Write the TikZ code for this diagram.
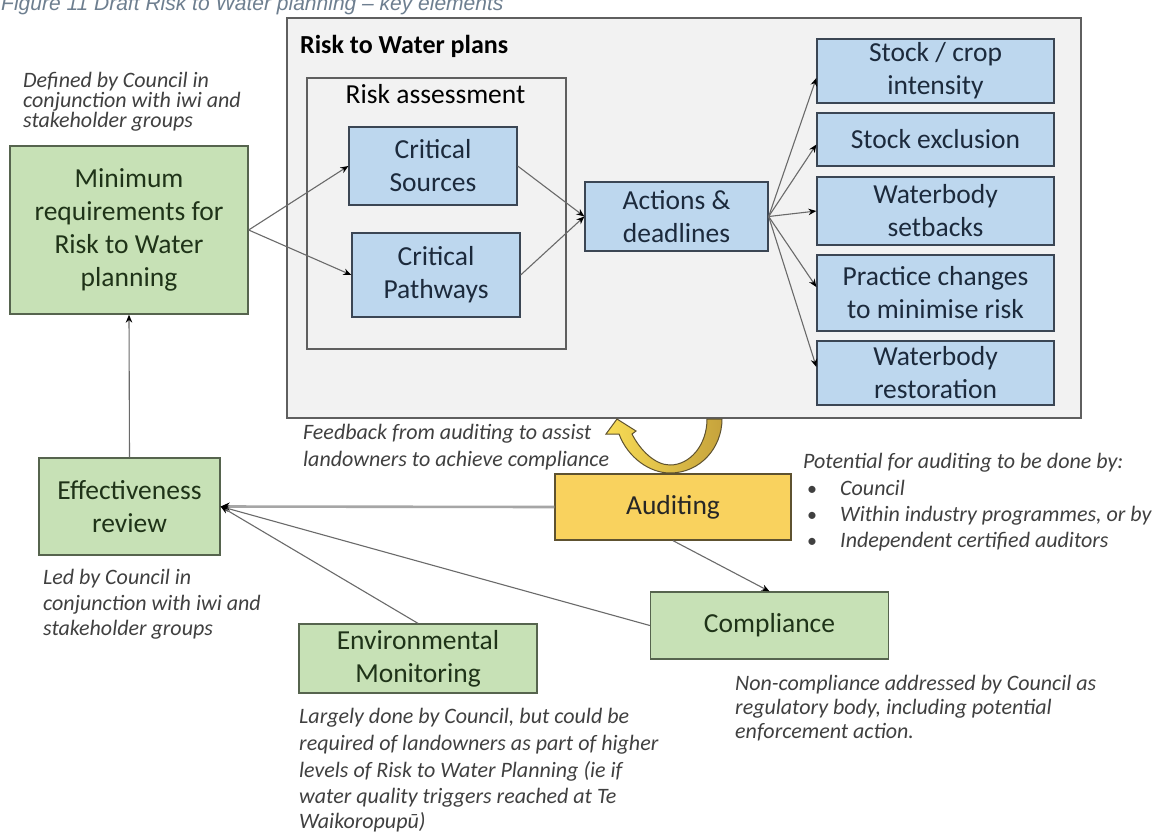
\documentclass[tikz,border=0pt]{standalone}
\usepackage{fontspec}
\setmainfont{Carlito}
\newfontfamily\capfont{Liberation Sans}
\usetikzlibrary{arrows.meta,calc}

\definecolor{panelfill}{HTML}{F2F2F2}
\definecolor{panelline}{HTML}{5F5F5F}
\definecolor{bluefill}{HTML}{BDD7EE}
\definecolor{blueline}{HTML}{3B4654}
\definecolor{bluetext}{HTML}{1C2A3C}
\definecolor{greenfill}{HTML}{C7E1B6}
\definecolor{greenline}{HTML}{56644E}
\definecolor{greentext}{HTML}{1F3318}
\definecolor{yelfill}{HTML}{F9D25E}
\definecolor{yelline}{HTML}{5E5230}
\definecolor{yellight}{HTML}{F8DC55}
\definecolor{yeldark}{HTML}{C6A33C}
\definecolor{notetext}{HTML}{404040}
\definecolor{captext}{HTML}{6E7F90}
\definecolor{linkgray}{HTML}{6A6A6A}

\tikzset{
  box/.style={draw, line width=1.3pt, align=center, inner sep=0pt,
    font=\fontsize{27.5}{33}\selectfont},
  bluebox/.style={box, fill=bluefill, draw=blueline, text=bluetext},
  greenbox/.style={box, fill=greenfill, draw=greenline, text=greentext},
  yellowbox/.style={box, fill=yelfill, draw=yelline, text=black!85},
  framebox/.style={draw=panelline, fill=panelfill, line width=1.4pt, inner sep=0pt},
  link/.style={draw=linkgray, line width=1.1pt, -{Stealth[length=8pt,width=6.5pt,black]}},
  note/.style={anchor=base west, inner sep=0pt, text=notetext,
    font=\fontsize{22}{22}\selectfont\itshape},
  bullet/.style={note, font=\fontsize{20}{20}\selectfont},
}

\begin{document}
\begin{tikzpicture}[x=1pt, y=-1pt]
\useasboundingbox (0,0) rectangle (1156,831);
\fill[white] (0,0) rectangle (1156,831);

% caption line
\node[anchor=base west, inner sep=0pt, text=captext,
  font=\capfont\itshape\fontsize{21}{21}\selectfont] (cap) at (1,10)
  {Figure 11 Draft Risk to Water planning – key elements};

% plan panel and its risk assessment frame
\node[framebox, minimum width=794pt, minimum height=400pt] (panel) at (684,218) {};
\node[anchor=base west, inner sep=0pt, font=\fontsize{26}{30}\selectfont\bfseries]
  (ptitle) at (300,53) {Risk to Water plans};
\node[framebox, line width=1.3pt, minimum width=259pt, minimum height=271pt] (ra) at (436.5,213.5) {};
\node[anchor=base, inner sep=0pt, font=\fontsize{27.5}{33}\selectfont] (ratitle) at (435.5,103) {Risk assessment};

% blue boxes
\node[bluebox, minimum width=168pt, minimum height=78pt] (crs) at (433,166) {Critical\\Sources};
\node[bluebox, minimum width=168pt, minimum height=84pt] (crp) at (436,275) {Critical\\Pathways};
\node[bluebox, minimum width=183pt, minimum height=69pt] (act) at (676.5,216.5) {Actions \&\\deadlines};
\node[bluebox, minimum width=237pt, minimum height=64pt] (sc) at (935.5,71) {Stock / crop\\intensity};
\node[bluebox, minimum width=237pt, minimum height=53pt] (se) at (935.5,139.5) {Stock exclusion};
\node[bluebox, minimum width=237pt, minimum height=68pt] (ws) at (935.5,211) {Waterbody\\setbacks};
\node[bluebox, minimum width=237pt, minimum height=76pt] (pc) at (935.5,293) {Practice changes\\to minimise risk};
\node[bluebox, minimum width=237pt, minimum height=64pt] (wr) at (935.5,373) {Waterbody\\restoration};

% green and yellow boxes
\node[greenbox, minimum width=238pt, minimum height=168pt] (minreq) at (129,230)
  {Minimum\\requirements for\\Risk to Water\\planning};
\node[greenbox, minimum width=181pt, minimum height=97pt] (eff) at (129.5,506.5) {Effectiveness\\review};
\node[greenbox, minimum width=238pt, minimum height=69pt] (env) at (418,658.5) {Environmental\\Monitoring};
\node[greenbox, minimum width=238pt, minimum height=67pt] (com) at (769.5,625.5) {Compliance};
\node[yellowbox, minimum width=236pt, minimum height=66pt] (aud) at (673,507) {Auditing};

% feedback U-turn arrow from auditing back to the plans
\path[draw=yelline, line width=1pt, left color=yellight, right color=yeldark]
  (722,419) .. controls (722,448) and (700,473) .. (670,473)
  .. controls (650,473) and (628,458) .. (619,434)
  -- (606,434) -- (617,419) -- (636,431) -- (632,434)
  .. controls (640,450) and (655,465) .. (670,465)
  .. controls (690,465) and (707,445) .. (707,419) -- cycle;

% connectors inside the plans
\draw[link] (minreq.east) -- (crs.west);
\draw[link] (minreq.east) -- (crp.west);
\draw[link] (crs.east) -- (act.west);
\draw[link] (crp.east) -- (act.west);
\draw[link] (act.east) -- ([yshift=-7pt]sc.west);
\draw[link] (act.east) -- ([yshift=-5pt]se.west);
\draw[link] (act.east) -- (ws.west);
\draw[link] (act.east) -- ([yshift=6pt]pc.west);
\draw[link] (act.east) -- ([yshift=6pt]wr.west);

% review and auditing connectors
\draw[link] (eff.north) -- (minreq.south);
\draw[draw=black!35, line width=2.6pt, -{Stealth[length=9pt,width=8pt,black]}] (aud.west) -- (eff.east);
\draw[link] (com.west) -- (eff.east);
\draw[link] (env.north) -- (eff.east);
\draw[link] (aud.south) -- (com.north);

% annotations
\node[note] (defa) at (23,87) {Defined by Council in};
\node[note] (defb) at (23,107) {conjunction with iwi and};
\node[note] (defc) at (23,127) {stakeholder groups};

\node[note] (leda) at (43,584) {Led by Council in};
\node[note] (ledb) at (43,610) {conjunction with iwi and};
\node[note] (ledc) at (43,635) {stakeholder groups};

\node[note] (fba) at (303,439) {Feedback from auditing to assist};
\node[note] (fbb) at (303,466) {landowners to achieve compliance};

\node[note] (pota) at (803,468) {Potential for auditing to be done by:};
\node[bullet] (potb) at (807,495) {•};
\node[note] (potbt) at (840,495) {Council};
\node[bullet] (potc) at (807,521) {•};
\node[note] (potct) at (840,521) {Within industry programmes, or by};
\node[bullet] (potd) at (807,547) {•};
\node[note] (potdt) at (840,547) {Independent certified auditors};

\node[note] (nca) at (735,690) {Non-compliance addressed by Council as};
\node[note] (ncb) at (735,714) {regulatory body, including potential};
\node[note] (ncc) at (735,738) {enforcement action.};

\node[note] (lga) at (299,723) {Largely done by Council, but could be};
\node[note] (lgb) at (299,750) {required of landowners as part of higher};
\node[note] (lgc) at (299,777) {levels of Risk to Water Planning (ie if};
\node[note] (lgd) at (299,803) {water quality triggers reached at Te};
\node[note] (lge) at (299,828) {Waikoropupū)};
\end{tikzpicture}
\end{document}
